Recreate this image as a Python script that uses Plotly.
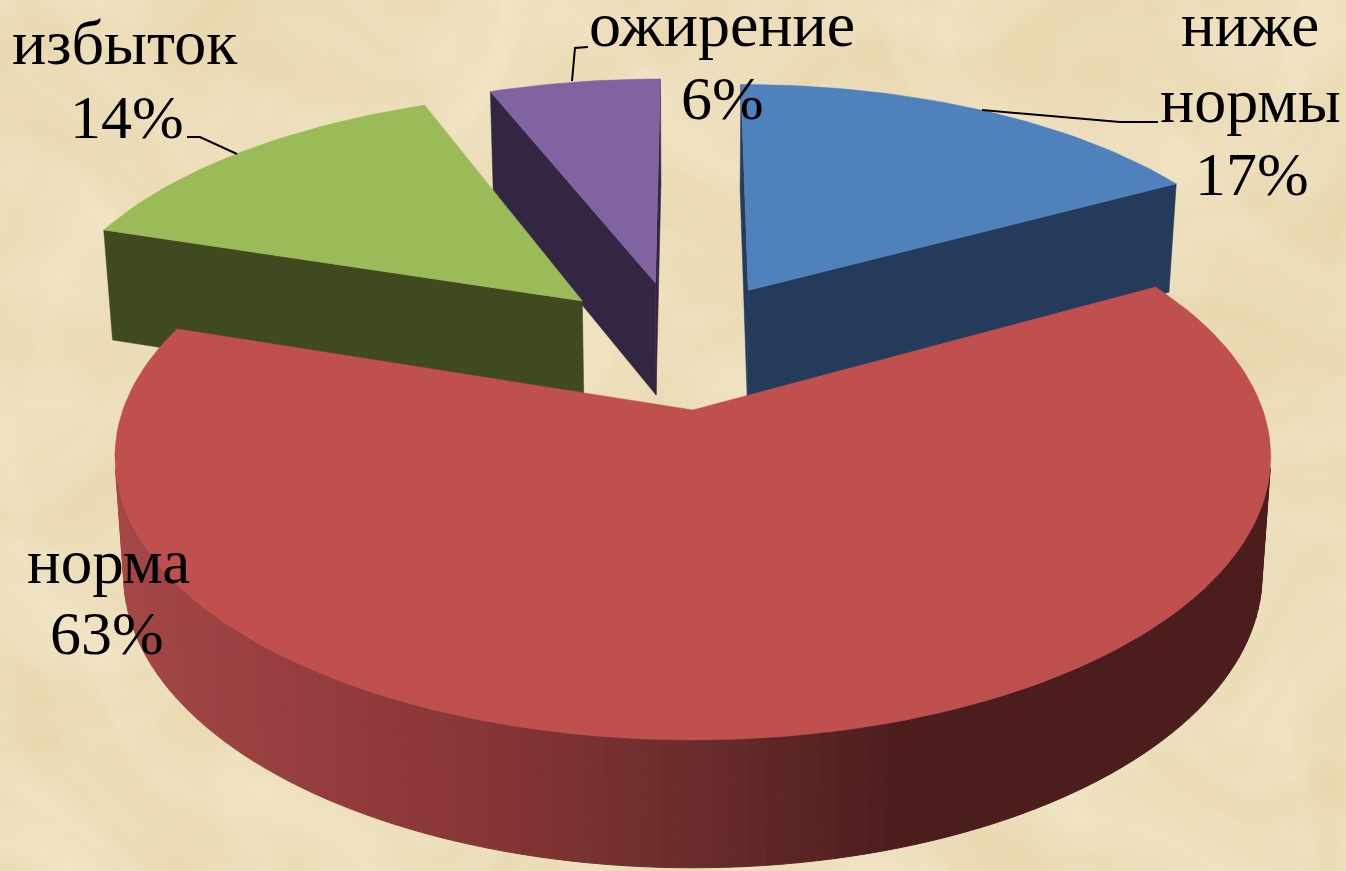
import base64
import math
import struct
import zlib
import plotly.graph_objects as go

categories = ["ниже нормы", "норма", "избыток", "ожирение"]
shares = [17, 63, 14, 6]

TOP_COLORS = ["#4F81BD", "#C0504D", "#9BBB59", "#8064A2"]
WALL_COLORS = ["#253B5C", "#8A3535", "#3F4A21", "#322642"]
BG = "#EEDFBB"

# projection of the tilted, exploded pie
CX, CY = 693, 410
A, B, K = 570, 275.5, 0.165
EXPLODE = 0.252
SHIFT = (-0.024, 0.251)


def top(x, y):
    w = 1 + K * y
    return CX + A * x / w, CY - B * y / w


def bottom(u, v):
    return CX + 0.985 * (u - CX), 1.035 * v + 102


def rim_color(u):
    stops = [(120, (164, 71, 70)), (500, (133, 52, 52)), (700, (106, 44, 44)),
             (900, (76, 29, 29)), (1300, (76, 29, 29))]
    for (u0, c0), (u1, c1) in zip(stops, stops[1:]):
        if u <= u1:
            t = max(0, (u - u0) / (u1 - u0))
            return "rgb(%d,%d,%d)" % tuple(round(a + (b - a) * t) for a, b in zip(c0, c1))
    return "rgb(76,29,29)"


def area(q):
    return sum(q[k][0] * q[(k + 1) % len(q)][1] - q[(k + 1) % len(q)][0] * q[k][1] for k in range(len(q)))


def poly(fig, pts, color, name, edge=0.5):
    fig.add_trace(go.Scatter(
        x=[p[0] for p in pts] + [pts[0][0]], y=[p[1] for p in pts] + [pts[0][1]],
        mode="lines", fill="toself", fillcolor=color,
        line=dict(color=color, width=edge), name=name, hoverinfo="skip", showlegend=False))


def parchment_uri(w=224, h=145):
    """Soft mottled paper backdrop (decoration only, built from fixed warped waves)."""
    rows = bytearray()
    for j in range(h):
        rows.append(0)
        for i in range(w):
            x, y = i / 6.0, j / 6.0
            wx = x + 2.1 * math.sin(y * 0.37 + 0.6) + 1.1 * math.sin(y * 0.91 + x * 0.23)
            wy = y + 1.9 * math.sin(x * 0.29 + 1.7) + 1.2 * math.cos(x * 0.83 - y * 0.31)
            m = (math.sin(wx * 0.53) * math.cos(wy * 0.71)
                 + 0.6 * math.sin(wx * 1.37 + 0.9 * math.sin(wy * 1.13)) * math.cos(wy * 1.91)
                 + 0.35 * math.sin(wx * 3.1 + 1.4 * math.cos(wy * 2.3)) * math.sin(wy * 3.7))
            rows += bytes((int(237 + 3 * m), int(223 + 4 * m), int(187 + 7 * m)))

    def chunk(tag, data):
        return struct.pack(">I", len(data)) + tag + data + struct.pack(">I", zlib.crc32(tag + data))

    png = (b"\x89PNG\r\n\x1a\n" + chunk(b"IHDR", struct.pack(">IIBBBBB", w, h, 8, 2, 0, 0, 0))
           + chunk(b"IDAT", zlib.compress(bytes(rows))) + chunk(b"IEND", b""))
    return "data:image/png;base64," + base64.b64encode(png).decode()


fig = go.Figure()
total = sum(shares)
starts = [sum(shares[:i]) / total * 2 * math.pi for i in range(len(shares))]
ends = [sum(shares[:i + 1]) / total * 2 * math.pi for i in range(len(shares))]

# paint from back to front: purple, green, blue, red
for i in [3, 2, 0, 1]:
    a0, a1 = starts[i], ends[i]
    mid = (a0 + a1) / 2
    ox = SHIFT[0] + EXPLODE * math.sin(mid)
    oy = SHIFT[1] + EXPLODE * math.cos(mid)
    n = max(4, int((a1 - a0) / math.radians(1.5)))
    rim = [top(ox + math.sin(a0 + (a1 - a0) * j / n), oy + math.cos(a0 + (a1 - a0) * j / n))
           for j in range(n + 1)]
    apex = top(ox, oy)
    low = [bottom(*p) for p in rim]
    lapex = bottom(*apex)

    # radial walls that face the viewer
    start_wall = [apex, rim[0], low[0], lapex]
    end_wall = [apex, rim[-1], low[-1], lapex]
    if area(start_wall) < 0:
        poly(fig, start_wall, WALL_COLORS[i], categories[i] + " стенка")
    if area(end_wall) > 0:
        poly(fig, end_wall, WALL_COLORS[i], categories[i] + " стенка")
    # curved side: only the part that faces the viewer
    for j in range(n):
        quad = [rim[j], rim[j + 1], low[j + 1], low[j]]
        if area(quad) < 0:
            color = rim_color((rim[j][0] + rim[j + 1][0]) / 2) if i == 1 else WALL_COLORS[i]
            poly(fig, quad, color, categories[i] + " бок", edge=1)
    # top face
    poly(fig, [apex] + rim, TOP_COLORS[i], categories[i])

# leader lines
LEADERS = [
    ([187, 200, 237], [137, 137, 154]),
    ([588, 575, 572], [47, 48, 81]),
    ([982, 1120, 1158], [110, 122, 122]),
]
for lx, ly in LEADERS:
    fig.add_trace(go.Scatter(x=lx, y=ly, mode="lines", line=dict(color="black", width=2),
                             hoverinfo="skip", showlegend=False))

LABEL_LINES = [
    ("избыток", 125, 63, 64),
    (f"{shares[2]}%", 127, 136, 62),
    ("ожирение", 722, 45, 64),
    (f"{shares[3]}%", 722, 117, 62),
    ("ниже", 1250, 45, 63),
    ("нормы", 1250, 121, 64),
    (f"{shares[0]}%", 1252, 193, 62),
    ("норма", 108, 582, 63),
    (f"{shares[1]}%", 107, 652, 62),
]
for text, x, base, size in LABEL_LINES:
    fig.add_annotation(x=x, y=base + size * 0.24, text=text, showarrow=False, xanchor="center",
                       yanchor="bottom", font=dict(family="Liberation Serif", size=size, color="black"),
                       borderpad=0, borderwidth=0)

fig.update_layout(
    width=1346, height=871, margin=dict(l=0, r=0, t=0, b=0),
    paper_bgcolor=BG, plot_bgcolor="rgba(0,0,0,0)", showlegend=False,
    xaxis=dict(range=[0, 1346], visible=False, fixedrange=True),
    yaxis=dict(range=[871, 0], visible=False, fixedrange=True),
    images=[dict(source=parchment_uri(), xref="paper", yref="paper", x=0, y=1, sizex=1, sizey=1,
                 xanchor="left", yanchor="top", sizing="stretch", layer="below")],
)
fig.write_html("out.html", config={"displayModeBar": False},
               post_script="document.body.style.margin='0';document.body.style.overflow='hidden';")
